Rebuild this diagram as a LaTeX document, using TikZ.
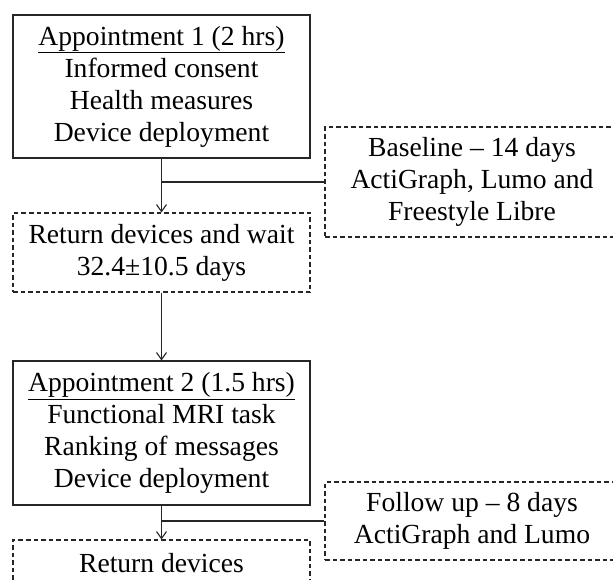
\documentclass[tikz,border=0pt]{standalone}
\usepackage{fontspec}
\setmainfont{Liberation Serif}
\usetikzlibrary{arrows.meta}
\begin{document}
\begin{tikzpicture}[x=1pt,y=-1pt]
            \tikzstyle{every node}+=[inner sep=0pt, align=center, font=\fontsize{27.6}{32}\selectfont]
            \tikzstyle{visit}=[draw=black!85, line width=1.1pt, minimum width=297pt]
            \tikzstyle{wear}=[draw=black!85, line width=1.1pt, dash pattern=on 4.5pt off 3pt, minimum width=294pt]
            \tikzstyle{flow}=[black!85, line width=1.1pt]
            \tikzstyle{step arrow}=[flow, -{Straight Barb[length=7pt,width=10pt]}]
            \clip (0,0) rectangle (613,579);
            \useasboundingbox (0,0) rectangle (613,579);
            % appointments and waits
            \node [visit, minimum height=143pt] (appt1) at (161.5,86.5)
              {\underline{Appointment 1 (2 hrs)}\\Informed consent\\Health measures\\Device deployment};
            \node [wear, minimum width=297pt, minimum height=79pt] (wait) at (161.5,252.5)
              {Return devices and wait\\32.4±10.5 days};
            \node [visit, minimum height=144pt] (appt2) at (161.5,433)
              {\underline{Appointment 2 (1.5 hrs)}\\Functional MRI task\\Ranking of messages\\Device deployment};
            \node [wear, minimum width=297pt, minimum height=46pt] (ret) at (161.5,563)
              {Return devices};
            % wear periods
            \node [wear, minimum height=110pt] (base) at (472,182)
              {Baseline -- 14 days\\ActiGraph, Lumo and\\Freestyle Libre};
            \node [wear, minimum height=78pt] (follow) at (472,521)
              {Follow up -- 8 days\\ActiGraph and Lumo};
            % connectors
            \draw [step arrow] (appt1) -- (wait);
            \draw [step arrow] (wait) -- (appt2);
            \draw [step arrow] (appt2) -- (ret);
            \draw [flow] (base.west) -- (base.west -| appt1.south);
            \draw [flow] (follow.west) -- (follow.west -| appt2.south);
\end{tikzpicture}
\end{document}
